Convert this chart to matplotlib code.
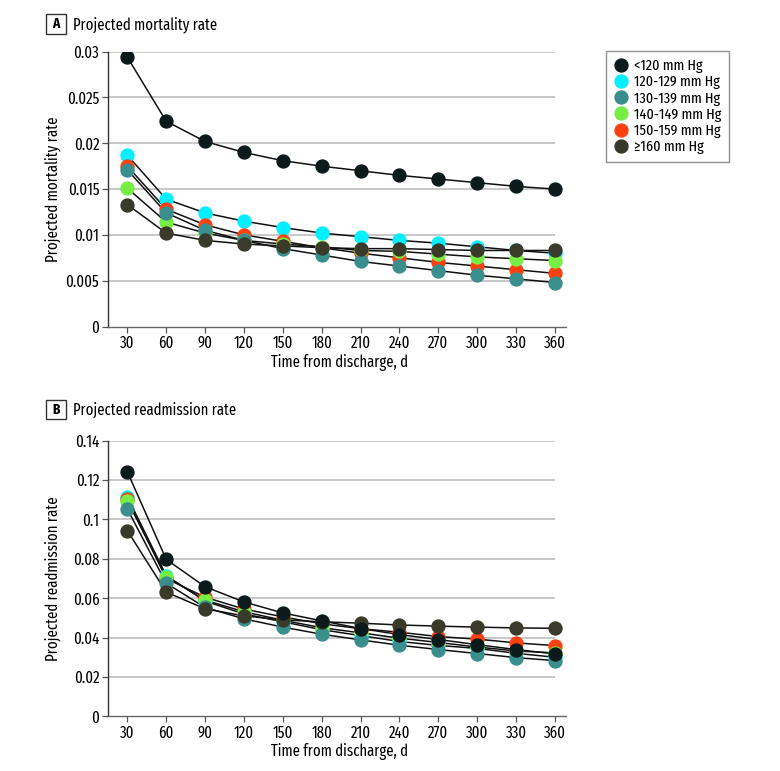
import matplotlib
matplotlib.use("Agg")
import matplotlib.pyplot as plt
from matplotlib.lines import Line2D
from matplotlib.patches import Rectangle
from matplotlib import font_manager as fm

_available = {f.name for f in fm.fontManager.ttflist}
_candidates = ["Fira Sans Extra Condensed", "Fira Sans Condensed", "Roboto Condensed",
               "PT Sans Narrow", "Archivo Narrow", "Lato"]
_main = next((c for c in _candidates if c in _available), "DejaVu Sans")
plt.rcParams['font.family'] = [_main, 'DejaVu Sans']

days = [30, 60, 90, 120, 150, 180, 210, 240, 270, 300, 330, 360]
groups = ["<120 mm Hg", "120-129 mm Hg", "130-139 mm Hg", "140-149 mm Hg",
          "150-159 mm Hg", "≥160 mm Hg"]
colors = ["#0b1a1a", "#00f0ff", "#3a8e8e", "#77ee44", "#ff4010", "#3a3a2a"]

mort_lt120 = [0.0294, 0.0224, 0.0202, 0.0190, 0.0181, 0.0175, 0.0170, 0.0165, 0.0161, 0.0157, 0.0153, 0.0150]
mort_120 = [0.0187, 0.0139, 0.0124, 0.0115, 0.0108, 0.0102, 0.0098, 0.0094, 0.0091, 0.0087, 0.0083, 0.0080]
mort_130 = [0.0171, 0.0124, 0.0105, 0.0094, 0.0085, 0.0078, 0.0071, 0.0066, 0.0061, 0.0056, 0.0052, 0.0048]
mort_140 = [0.0151, 0.0114, 0.0102, 0.0094, 0.0090, 0.0087, 0.0083, 0.0082, 0.0079, 0.0076, 0.0074, 0.0072]
mort_150 = [0.0175, 0.0128, 0.0111, 0.0100, 0.0093, 0.0086, 0.0080, 0.0075, 0.0070, 0.0066, 0.0062, 0.0058]
mort_160 = [0.0133, 0.0102, 0.0094, 0.0090, 0.0088, 0.0086, 0.0085, 0.0085, 0.0084, 0.0083, 0.0083, 0.0083]

read_lt120 = [0.1242, 0.0797, 0.0658, 0.0581, 0.0525, 0.0485, 0.0446, 0.0415, 0.0390, 0.0364, 0.0339, 0.0317]
read_120 = [0.1115, 0.0715, 0.0585, 0.0520, 0.0480, 0.0440, 0.0410, 0.0380, 0.0360, 0.0345, 0.0320, 0.0300]
read_130 = [0.1053, 0.0676, 0.0553, 0.0495, 0.0453, 0.0417, 0.0388, 0.0361, 0.0339, 0.0319, 0.0298, 0.0283]
read_140 = [0.1095, 0.0709, 0.0590, 0.0531, 0.0488, 0.0450, 0.0424, 0.0397, 0.0375, 0.0352, 0.0332, 0.0322]
read_150 = [0.1105, 0.0700, 0.0605, 0.0545, 0.0505, 0.0470, 0.0445, 0.0427, 0.0405, 0.0392, 0.0373, 0.0359]
read_160 = [0.0943, 0.0631, 0.0546, 0.0510, 0.0490, 0.0480, 0.0473, 0.0464, 0.0458, 0.0453, 0.0449, 0.0447]

mortality = [mort_lt120, mort_120, mort_130, mort_140, mort_150, mort_160]
readmission = [read_lt120, read_120, read_130, read_140, read_150, read_160]
draw_order = [1, 4, 3, 2, 5, 0]

mort_ticks = [0, 0.005, 0.01, 0.015, 0.02, 0.025, 0.03]
mort_ticklabels = ["0", "0.005", "0.01", "0.015", "0.02", "0.025", "0.03"]
read_ticks = [0, 0.02, 0.04, 0.06, 0.08, 0.10, 0.12, 0.14]
read_ticklabels = ["0", "0.02", "0.04", "0.06", "0.08", "0.1", "0.12", "0.14"]

W, H = 780, 771
fig = plt.figure(figsize=(W / 100, H / 100), dpi=100)

def px_axes(left, right, top, bottom):
    return fig.add_axes([left / W, 1 - bottom / H, (right - left) / W, (bottom - top) / H])

ax1 = px_axes(108.3, 566, 51.7, 326.5)
ax2 = px_axes(108.3, 566, 440.7, 716.3)

def style(ax, data, ticks, labels, ymax, ylabel):
    ax.set_xlim(15.3, 368.5)
    ax.set_ylim(0, ymax)
    for t in ticks[1:]:
        ax.plot([15.3, 360], [t, t], color="#c4c4c4", lw=1.3, zorder=0, solid_capstyle="butt")
    for i in draw_order:
        ax.plot(days, data[i], color="#111111", lw=1.1, zorder=2)
    for i in draw_order:
        ax.plot(days, data[i], ls="none", marker="o", ms=9.3, mfc=colors[i],
                mec=colors[i], zorder=3)
    ax.set_xticks(days)
    ax.set_xticklabels([str(d) for d in days], fontsize=11.6)
    ax.set_yticks(ticks)
    ax.set_yticklabels(labels, fontsize=11.6)
    ax.tick_params(axis="both", length=4, width=0.9, color="#555555", pad=2.5)
    for s in ["top", "right"]:
        ax.spines[s].set_visible(False)
    ax.spines["left"].set_color("#333333")
    ax.spines["bottom"].set_color("#666666")
    ax.spines["left"].set_linewidth(1.0)
    ax.spines["bottom"].set_linewidth(1.0)
    ax.set_xlabel("Time from discharge, d", fontsize=11.5)
    ax.set_ylabel(ylabel, fontsize=11.6)
    h = 274.8
    ax.xaxis.set_label_coords((340 - 108.3) / 457.7, -(362 - 326.5) / h)
    ax.xaxis.label.set_va("center")
    ax.yaxis.set_label_coords(-(108.3 - 53) / 457.7, 0.5)
    ax.yaxis.label.set_va("center")

style(ax1, mortality, mort_ticks, mort_ticklabels, 0.03, "Projected mortality rate")
style(ax2, readmission, read_ticks, read_ticklabels, 0.14, "Projected readmission rate")

# panel labels
for letter, title, top in [("A", "Projected mortality rate", 14.5), ("B", "Projected readmission rate", 400.5)]:
    fig.patches.append(Rectangle((46 / W, 1 - (top + 19) / H), 20 / W, 19 / H,
                                 transform=fig.transFigure, fill=False,
                                 edgecolor="#333333", lw=1.0))
    fig.text(56 / W, 1 - (top + 9.8) / H, letter, ha="center", va="center",
             fontsize=10.5, fontweight="bold")
    fig.text(73 / W, 1 - (top + 9.8) / H, title, ha="left", va="center", fontsize=11.5)

handles = [Line2D([], [], ls="none", marker="o", ms=9.3, mfc=c, mec=c) for c in colors]
leg = fig.legend(handles, groups, loc="upper left", bbox_to_anchor=(606 / W, 1 - 51 / H),
                 frameon=True, fancybox=False, fontsize=11, handlelength=0.9,
                 handletextpad=0.45, labelspacing=0.13, borderpad=0.5, borderaxespad=0)
leg.get_frame().set_edgecolor("#777777")
leg.get_frame().set_linewidth(1.0)

fig.savefig("out.png", dpi=100)
